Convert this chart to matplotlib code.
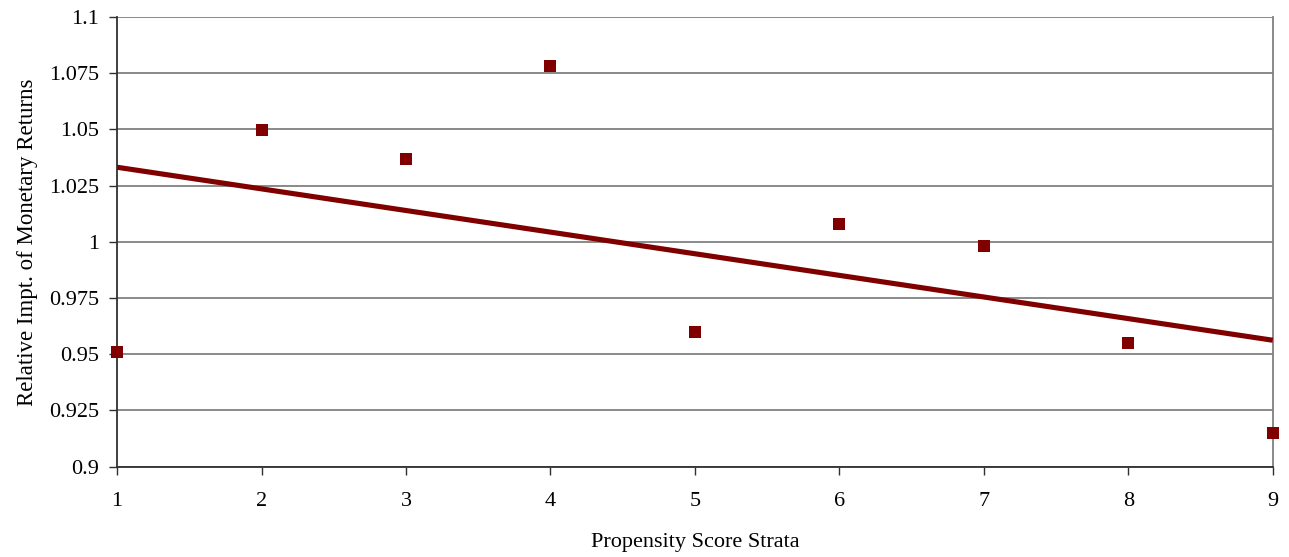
import numpy as np
import matplotlib
matplotlib.use("Agg")
import matplotlib.pyplot as plt

plt.rcParams['font.family'] = ['Liberation Serif', 'DejaVu Serif']

strata = [1, 2, 3, 4, 5, 6, 7, 8, 9]
relative_importance = [0.9512, 1.0498, 1.0367, 1.0784, 0.9601, 1.0081, 0.9983, 0.9549, 0.9149]
y_ticks = [0.9, 0.925, 0.95, 0.975, 1.0, 1.025, 1.05, 1.075, 1.1]
y_tick_labels = ["0.9", "0.925", "0.95", "0.975", "1", "1.025", "1.05", "1.075", "1.1"]

color = "#800000"

fig = plt.figure(figsize=(12.89, 5.57), dpi=100)
ax = fig.add_axes([0.0908, 0.1621, 0.8966, 0.8074])

# least-squares linear trend through the strata values
slope, intercept = np.polyfit(strata, relative_importance, 1)
xs = np.array([strata[0], strata[-1]])
ax.plot(xs, slope * xs + intercept, color=color, linewidth=3.7, zorder=3,
        solid_capstyle="butt")

ax.plot(strata, relative_importance, linestyle="none", marker="s",
        markersize=8.8, color=color, markeredgewidth=0, zorder=4, clip_on=False)

ax.set_xlim(1, 9)
ax.set_ylim(0.9, 1.1)
ax.set_xticks(strata)
ax.set_xticklabels([str(s) for s in strata])
ax.set_yticks(y_ticks)
ax.set_yticklabels(y_tick_labels)

ax.yaxis.grid(True, color="#808080", linewidth=1.3)
ax.set_axisbelow(True)

ax.spines["top"].set_visible(False)
ax.spines["right"].set_color("#808080")
ax.spines["right"].set_linewidth(1.3)
for side in ("left", "bottom"):
    ax.spines[side].set_color("#303030")
    ax.spines[side].set_linewidth(1.3)

ax.tick_params(axis="both", direction="out", length=6, width=1.0,
               color="#303030", labelsize=16)
ax.tick_params(axis="x", pad=12)
ax.tick_params(axis="y", pad=7)

ax.set_xlabel("Propensity Score Strata", fontsize=16, labelpad=16)
ax.set_ylabel("Relative Impt. of Monetary Returns", fontsize=16.5, labelpad=8)

fig.savefig("out.png", dpi=100, facecolor="white")
